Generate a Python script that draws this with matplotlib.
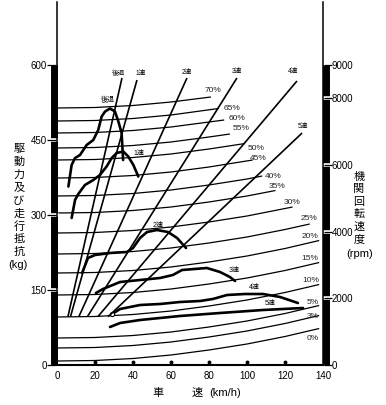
import matplotlib
matplotlib.use('Agg')
import matplotlib.pyplot as plt
from matplotlib.transforms import blended_transform_factory

plt.rcParams['font.family'] = ['Liberation Sans', 'Noto Sans CJK JP', 'DejaVu Sans']

# ---------------- data ----------------
# running resistance curves (grade %): speed km/h, resistance kg
grades = ['70%', '65%', '60%', '55%', '50%', '45%', '40%', '35%', '30%',
          '25%', '20%', '15%', '10%', '5%', '3%', '0%']
res_speed = [
    [0, 20, 40, 60, 81],
    [0, 20, 40, 60, 85],
    [0, 20, 40, 60, 88],
    [0, 20, 40, 60, 80, 91],
    [0, 20, 40, 60, 80, 99],
    [0, 20, 40, 60, 80, 103],
    [0, 20, 40, 60, 80, 100, 108],
    [0, 20, 40, 60, 80, 100, 115],
    [0, 20, 40, 60, 80, 100, 124],
    [0, 20, 40, 60, 80, 100, 120, 133],
    [0, 20, 40, 60, 80, 100, 120, 138],
    [0, 20, 40, 60, 80, 100, 120, 138],
    [0, 20, 40, 60, 80, 100, 120, 138],
    [0, 20, 40, 60, 80, 100, 120, 138],
    [0, 20, 40, 60, 80, 100, 120, 138],
    [0, 20, 40, 60, 80, 100, 120, 138],
]
res_kg = [
    [514, 515, 519, 526, 536],
    [488, 489, 493, 500, 513],
    [464, 465, 469, 476, 490],
    [434, 435, 439, 446, 456, 462],
    [410, 411, 415, 422, 432, 443],
    [374, 375, 379, 386, 396, 410],
    [338, 339, 343, 350, 360, 372, 378],
    [304, 305, 309, 316, 326, 338, 349],
    [264, 265, 269, 276, 286, 298, 316],
    [222, 223, 227, 234, 244, 256, 271, 282],
    [184, 185, 189, 196, 206, 218, 233, 249],
    [140, 141, 145, 152, 162, 174, 189, 205],
    [96, 97, 101, 108, 118, 130, 145, 161],
    [54, 55, 59, 66, 76, 88, 103, 119],
    [34, 35, 39, 46, 56, 68, 83, 99],
    [8, 9, 13, 20, 30, 42, 57, 73],
]

# driving force curves per gear
gears = ['後退', '1速', '2速', '3速', '4速', '5速']
drive_speed = [
    [6.0, 7.7, 9.5, 12.1, 15.6, 19.1, 21.7, 23.5, 25.3, 27.9, 30.5, 32.3, 34.0, 34.8],
    [7.7, 9.5, 11.2, 14.7, 19.1, 22.6, 26.1, 28.8, 31.4, 34.9, 37.5, 40.2, 42.8],
    [13.2, 16.3, 20.0, 27.9, 36.8, 40.0, 43.7, 47.4, 52.6, 58.4, 63.2, 67.9],
    [20.5, 24.2, 33.2, 43.7, 54.2, 61.0, 65.8, 78.9, 85.8, 91.0, 93.7],
    [29.0, 33.2, 43.7, 54.2, 64.7, 75.3, 82.0, 89.5, 98.9, 108.4, 117.4, 126.8],
    [27.9, 33.2, 43.7, 64.7, 85.8, 108.4, 129.5],
]
drive_kg = [
    [357, 400, 414, 420, 440, 450, 470, 497, 507, 513, 507, 487, 464, 410],
    [294, 330, 342, 360, 370, 380, 397, 414, 424, 427, 417, 400, 377],
    [184, 214, 220, 224, 226, 234, 254, 266, 270, 266, 254, 234],
    [144, 152, 166, 170, 174, 180, 190, 194, 186, 176, 168],
    [102, 112, 120, 122, 126, 128, 132, 140, 142, 142, 136, 124],
    [76, 84, 90, 98, 104, 110, 114],
]

# engine speed lines per gear: (speed, rpm) at start and end
gear_v0 = [5.75, 7.1, 11.5, 16.0, 21.5, 26.9]
gear_v1 = [34.2, 42.1, 68.4, 94.7, 126.3, 129.0]
gear_rpm0 = [1450, 1450, 1450, 1450, 1450, 1450]
gear_rpm1 = [8610, 8550, 8610, 8610, 8520, 6960]

x_ticks = [0, 20, 40, 60, 80, 100, 120, 140]
kg_ticks = [0, 150, 300, 450, 600]
rpm_ticks = [0, 2000, 4000, 6000, 8000, 9000]

# ---------------- figure ----------------
W, H = 386, 405
fig = plt.figure(figsize=(W / 100, H / 100), dpi=100)
fig.patch.set_facecolor('white')
ax = fig.add_axes([57 / W, 40 / H, 266 / W, 363 / H])
ax.set_xlim(0, 140)
ax.set_ylim(0, 726)
ax2 = ax.twinx()
ax2.set_ylim(0, 726 * 15)

for s in ['top', 'right']:
    ax.spines[s].set_visible(False)
for s in ['top', 'left', 'bottom']:
    ax2.spines[s].set_visible(False)
ax.spines['left'].set_linewidth(1.1)
ax.spines['bottom'].set_linewidth(1.5)
ax2.spines['right'].set_linewidth(1.1)

ax.set_xticks(x_ticks)
ax.set_yticks(kg_ticks)
ax2.set_yticks(rpm_ticks)
ax.tick_params(axis='x', length=0, pad=4.5, labelsize=7)
ax.tick_params(axis='y', length=0, pad=7.5, labelsize=7)
ax2.tick_params(axis='y', length=0, pad=6, labelsize=7)

# resistance curves
lab_pos = [(82, 548), (92, 514), (94.7, 494), (96.8, 472), (104.7, 434), (105.8, 414),
           (114, 378), (116, 356), (123.7, 324), (132.6, 292), (133, 256), (133, 214),
           (133.7, 170), (134.7, 126), (134.7, 96), (134.7, 54)]
for g, vs, ks, lp in zip(grades, res_speed, res_kg, lab_pos):
    ax.plot(vs, ks, color='black', lw=0.9, solid_capstyle='butt')
    ax.text(lp[0], lp[1], g, fontsize=6, ha='center', va='center', color='#222222')

# engine speed lines
gl_pos = [(32.5, 584), (44, 584), (68.5, 586), (94.7, 588), (124.4, 588), (129.6, 478)]
for g, v0, v1, r0, r1, lp in zip(gears, gear_v0, gear_v1, gear_rpm0, gear_rpm1, gl_pos):
    ax2.plot([v0, v1], [r0, r1], color='black', lw=1.2, solid_capstyle='butt')
    ax.text(lp[0], lp[1], g, fontsize=4.8, ha='center', va='center')

# driving force curves
dl_pos = [(27, 530), (43, 424), (53, 280), (93, 190), (104, 156), (112, 124)]
for g, vs, ks, lp in zip(gears, drive_speed, drive_kg, dl_pos):
    ax.plot(vs, ks, color='black', lw=1.9, solid_joinstyle='round', solid_capstyle='round')
    ax.text(lp[0], lp[1], g, fontsize=5, ha='center', va='center')
ax.plot([drive_speed[4][0]], [drive_kg[4][0]], marker='o', ms=3, mfc='white',
        mec='black', mew=0.8)

# thick bars on both axes
px = 1 / 266
bl = blended_transform_factory(ax.transAxes, ax.transData)
ax.plot([-3.5 * px] * 2, [0, 600], transform=bl, color='black', lw=5.0,
        solid_capstyle='butt', clip_on=False)
for t in kg_ticks[1:-1]:
    ax.plot([-8 * px, 0], [t, t], transform=bl, color='white', lw=2.6, clip_on=False)
for t in kg_ticks:
    ax.plot([-10 * px, -1 * px], [t, t], transform=bl, color='black', lw=0.9,
            clip_on=False, solid_capstyle='butt')
br = blended_transform_factory(ax2.transAxes, ax2.transData)
ax2.plot([1 + 3 * px] * 2, [0, 9000], transform=br, color='black', lw=5.0,
         solid_capstyle='butt', clip_on=False)
for t in rpm_ticks[1:-1]:
    ax2.plot([1, 1 + 7 * px], [t, t], transform=br, color='white', lw=2.6, clip_on=False)
for t in rpm_ticks:
    ax2.plot([1 + 1 * px, 1 + 9 * px], [t, t], transform=br, color='black', lw=0.9,
             clip_on=False, solid_capstyle='butt')

# dots above x axis
bx = blended_transform_factory(ax.transData, ax.transAxes)
ax.plot(x_ticks[1:-1], [3 / 363] * 6, transform=bx, ls='none', marker='o', ms=1.8,
        color='black', clip_on=False)

# axis titles (vertical Japanese)
left_chars = ['駆', '動', '力', '及', 'び', '走', '行', '抵', '抗']
for i, c in enumerate(left_chars):
    y = 149 + i * 12.9
    fig.text(19 / W, 1 - y / H, c, fontsize=8, ha='center', va='center')
fig.text(18 / W, 1 - 265 / H, '(kg)', fontsize=8, ha='center', va='center')

right_chars = ['機', '関', '回', '転', '速', '度']
for i, c in enumerate(right_chars):
    y = 177 + i * 12.4
    fig.text(359 / W, 1 - y / H, c, fontsize=8, ha='center', va='center')
fig.text(360 / W, 1 - 254 / H, '(rpm)', fontsize=8, ha='center', va='center')

fig.text(158 / W, 1 - 393 / H, '車', fontsize=8, ha='center', va='center')
fig.text(197 / W, 1 - 393 / H, '速', fontsize=8, ha='center', va='center')
fig.text(225 / W, 1 - 393 / H, '(km/h)', fontsize=8, ha='center', va='center')

fig.savefig('out.png', dpi=100, facecolor='white')
